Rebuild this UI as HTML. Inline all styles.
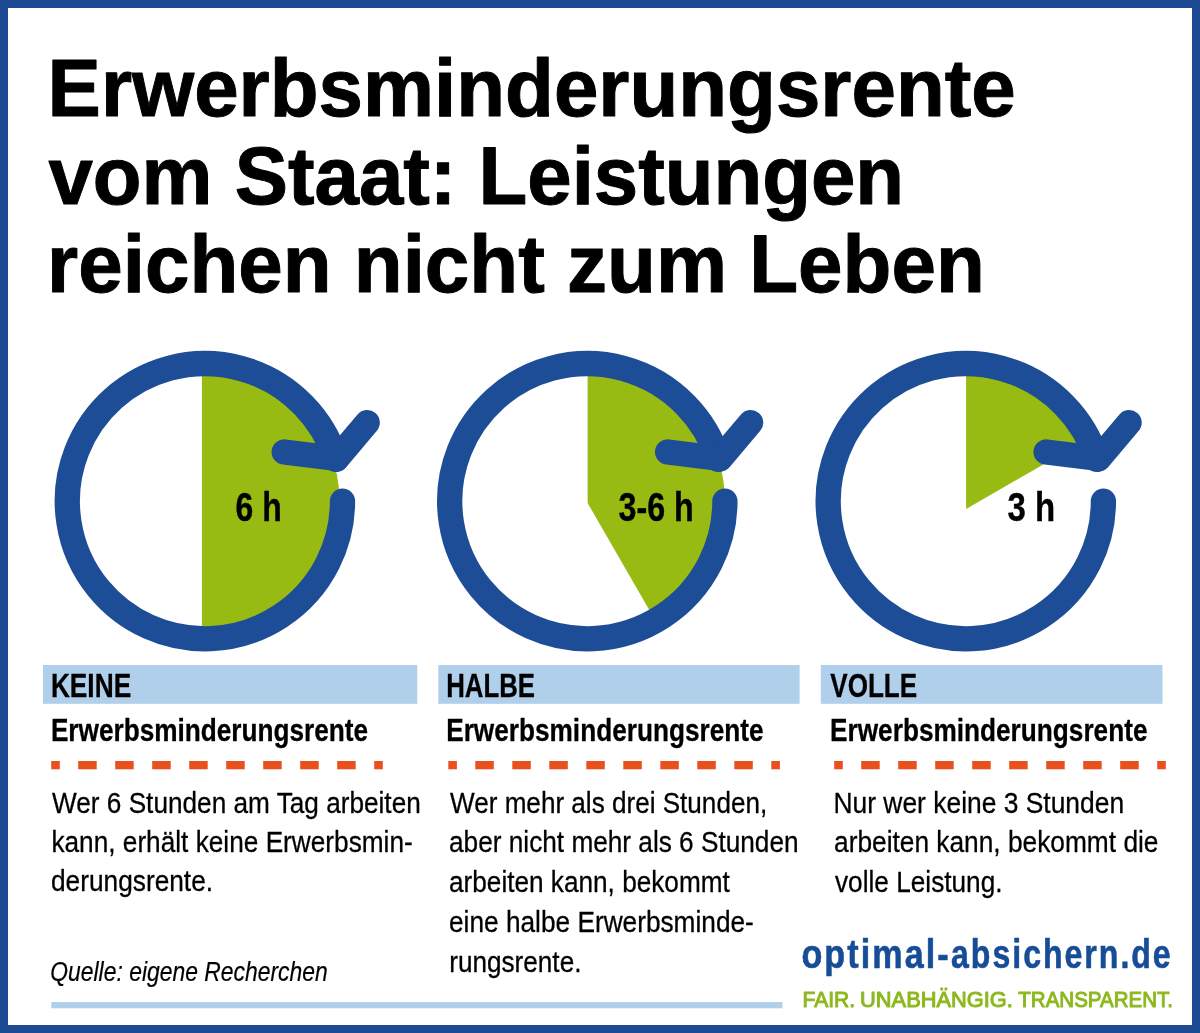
<!DOCTYPE html>
<html lang="de"><head><meta charset="utf-8"><title>Erwerbsminderungsrente vom Staat</title>
<style>html,body{margin:0;padding:0;background:#fff}body{width:1200px;height:1033px;overflow:hidden}svg{display:block}text{font-family:"Liberation Sans",Arial,Helvetica,sans-serif}</style>
</head><body>
<svg width="1200" height="1033" viewBox="0 0 1200 1033">
<rect x="0" y="0" width="1200" height="1033" fill="#1C4B93"/>
<rect x="8" y="8" width="1184" height="1017" fill="#fff"/>
<text x="47.61" y="116.3" font-size="81.8" font-weight="bold" font-style="normal" fill="#000" textLength="968.16" lengthAdjust="spacingAndGlyphs" stroke="#000" stroke-width="1.0" stroke-linejoin="round">Erwerbsminderungsrente</text>
<text x="48.5" y="204.1" font-size="81.8" font-weight="bold" font-style="normal" fill="#000" textLength="855.6" lengthAdjust="spacingAndGlyphs" stroke="#000" stroke-width="1.0" stroke-linejoin="round">vom Staat: Leistungen</text>
<text x="47.1" y="292.2" font-size="81.8" font-weight="bold" font-style="normal" fill="#000" textLength="937.66" lengthAdjust="spacingAndGlyphs" stroke="#000" stroke-width="1.0" stroke-linejoin="round">reichen nicht zum Leben</text>
<path d="M201.9 501.2 L201.9 363.6 A137.6 137.6 0 0 1 201.9 638.8 Z" fill="#97BB12"/>
<path d="M342.5 501.2 A137.6 137.6 0 1 1 336.0 459.4" fill="none" stroke="#1E4D97" stroke-width="25.3" stroke-linecap="round"/>
<path d="M284.2 452 L336.9 458.5 L367.2 422.6" fill="none" stroke="#1E4D97" stroke-width="25.3" stroke-linecap="round" stroke-linejoin="round"/>
<text x="235.6" y="520.8" font-size="40" font-weight="bold" font-style="normal" fill="#000" textLength="46.11" lengthAdjust="spacingAndGlyphs" stroke="#000" stroke-width="0.4" stroke-linejoin="round">6 h</text>
<path d="M587.6 503.0 L587.6 363.6 A137.6 137.6 0 0 1 655.5 620.7 Z" fill="#97BB12"/>
<path d="M724.9 501.2 A137.6 137.6 0 1 1 718.4 459.4" fill="none" stroke="#1E4D97" stroke-width="25.3" stroke-linecap="round"/>
<path d="M667.6 452 L720.3 458.5 L750.6 422.6" fill="none" stroke="#1E4D97" stroke-width="25.3" stroke-linecap="round" stroke-linejoin="round"/>
<text x="618.47" y="520.8" font-size="40" font-weight="bold" font-style="normal" fill="#000" textLength="75.31" lengthAdjust="spacingAndGlyphs" stroke="#000" stroke-width="0.4" stroke-linejoin="round">3-6 h</text>
<path d="M966.1 509.1 L966.1 363.6 A137.6 137.6 0 0 1 1088.3 438.5 Z" fill="#97BB12"/>
<path d="M1103.4 501.2 A137.6 137.6 0 1 1 1096.9 459.4" fill="none" stroke="#1E4D97" stroke-width="25.3" stroke-linecap="round"/>
<path d="M1046.1 452 L1098.8 458.5 L1129.1 422.6" fill="none" stroke="#1E4D97" stroke-width="25.3" stroke-linecap="round" stroke-linejoin="round"/>
<text x="1007.46" y="520.8" font-size="40" font-weight="bold" font-style="normal" fill="#000" textLength="47.61" lengthAdjust="spacingAndGlyphs" stroke="#000" stroke-width="0.4" stroke-linejoin="round">3 h</text>
<rect x="43" y="665" width="374.3" height="38.8" fill="#AFCFEA"/>
<text x="50.88" y="697" font-size="33" font-weight="bold" font-style="normal" fill="#000" textLength="80.29" lengthAdjust="spacingAndGlyphs" stroke="#000" stroke-width="0.3" stroke-linejoin="round">KEINE</text>
<text x="50.88" y="740.5" font-size="31.6" font-weight="bold" font-style="normal" fill="#000" textLength="317.17" lengthAdjust="spacingAndGlyphs" stroke="#000" stroke-width="0.3" stroke-linejoin="round">Erwerbsminderungsrente</text>
<rect x="51.2" y="761" width="8.6" height="8.3" fill="#E8501E"/>
<rect x="78.2" y="761" width="18.5" height="8.3" fill="#E8501E"/>
<rect x="115.2" y="761" width="18.5" height="8.3" fill="#E8501E"/>
<rect x="152.2" y="761" width="18.5" height="8.3" fill="#E8501E"/>
<rect x="189.2" y="761" width="18.5" height="8.3" fill="#E8501E"/>
<rect x="226.2" y="761" width="18.5" height="8.3" fill="#E8501E"/>
<rect x="263.2" y="761" width="18.5" height="8.3" fill="#E8501E"/>
<rect x="300.2" y="761" width="18.5" height="8.3" fill="#E8501E"/>
<rect x="337.2" y="761" width="18.5" height="8.3" fill="#E8501E"/>
<rect x="374.2" y="761" width="8.6" height="8.3" fill="#E8501E"/>
<text x="52.02" y="812.5" font-size="30.4" font-weight="normal" font-style="normal" fill="#000" textLength="368.76" lengthAdjust="spacingAndGlyphs" stroke="#000" stroke-width="0.3" stroke-linejoin="round">Wer 6 Stunden am Tag arbeiten</text>
<text x="51.38" y="852" font-size="30.4" font-weight="normal" font-style="normal" fill="#000" textLength="361.39" lengthAdjust="spacingAndGlyphs" stroke="#000" stroke-width="0.3" stroke-linejoin="round">kann, erhält keine Erwerbsmin-</text>
<text x="51.03" y="891.3" font-size="30.4" font-weight="normal" font-style="normal" fill="#000" textLength="162.01" lengthAdjust="spacingAndGlyphs" stroke="#000" stroke-width="0.3" stroke-linejoin="round">derungsrente.</text>
<rect x="438.3" y="665" width="361.3" height="38.8" fill="#AFCFEA"/>
<text x="446.21" y="697" font-size="33" font-weight="bold" font-style="normal" fill="#000" textLength="88.86" lengthAdjust="spacingAndGlyphs" stroke="#000" stroke-width="0.3" stroke-linejoin="round">HALBE</text>
<text x="446.18" y="740.5" font-size="31.6" font-weight="bold" font-style="normal" fill="#000" textLength="317.38" lengthAdjust="spacingAndGlyphs" stroke="#000" stroke-width="0.3" stroke-linejoin="round">Erwerbsminderungsrente</text>
<rect x="448.3" y="761" width="8.6" height="8.3" fill="#E8501E"/>
<rect x="475.3" y="761" width="18.5" height="8.3" fill="#E8501E"/>
<rect x="512.3" y="761" width="18.5" height="8.3" fill="#E8501E"/>
<rect x="549.3" y="761" width="18.5" height="8.3" fill="#E8501E"/>
<rect x="586.3" y="761" width="18.5" height="8.3" fill="#E8501E"/>
<rect x="623.3" y="761" width="18.5" height="8.3" fill="#E8501E"/>
<rect x="660.3" y="761" width="18.5" height="8.3" fill="#E8501E"/>
<rect x="697.3" y="761" width="18.5" height="8.3" fill="#E8501E"/>
<rect x="734.3" y="761" width="18.5" height="8.3" fill="#E8501E"/>
<rect x="771.3" y="761" width="8.6" height="8.3" fill="#E8501E"/>
<text x="450.02" y="812.5" font-size="30.4" font-weight="normal" font-style="normal" fill="#000" textLength="317.16" lengthAdjust="spacingAndGlyphs" stroke="#000" stroke-width="0.3" stroke-linejoin="round">Wer mehr als drei Stunden,</text>
<text x="449.04" y="852" font-size="30.4" font-weight="normal" font-style="normal" fill="#000" textLength="349.56" lengthAdjust="spacingAndGlyphs" stroke="#000" stroke-width="0.3" stroke-linejoin="round">aber nicht mehr als 6 Stunden</text>
<text x="449.04" y="892" font-size="30.4" font-weight="normal" font-style="normal" fill="#000" textLength="280.73" lengthAdjust="spacingAndGlyphs" stroke="#000" stroke-width="0.3" stroke-linejoin="round">arbeiten kann, bekommt</text>
<text x="449.03" y="932" font-size="30.4" font-weight="normal" font-style="normal" fill="#000" textLength="304.8" lengthAdjust="spacingAndGlyphs" stroke="#000" stroke-width="0.3" stroke-linejoin="round">eine halbe Erwerbsminde-</text>
<text x="449.19" y="972" font-size="30.4" font-weight="normal" font-style="normal" fill="#000" textLength="132.25" lengthAdjust="spacingAndGlyphs" stroke="#000" stroke-width="0.3" stroke-linejoin="round">rungsrente.</text>
<rect x="820.8" y="665" width="341.7" height="38.8" fill="#AFCFEA"/>
<text x="830.25" y="697" font-size="33" font-weight="bold" font-style="normal" fill="#000" textLength="86.9" lengthAdjust="spacingAndGlyphs" stroke="#000" stroke-width="0.3" stroke-linejoin="round">VOLLE</text>
<text x="830.08" y="740.5" font-size="31.6" font-weight="bold" font-style="normal" fill="#000" textLength="317.38" lengthAdjust="spacingAndGlyphs" stroke="#000" stroke-width="0.3" stroke-linejoin="round">Erwerbsminderungsrente</text>
<rect x="834.2" y="761" width="8.6" height="8.3" fill="#E8501E"/>
<rect x="861.2" y="761" width="18.5" height="8.3" fill="#E8501E"/>
<rect x="898.2" y="761" width="18.5" height="8.3" fill="#E8501E"/>
<rect x="935.2" y="761" width="18.5" height="8.3" fill="#E8501E"/>
<rect x="972.2" y="761" width="18.5" height="8.3" fill="#E8501E"/>
<rect x="1009.2" y="761" width="18.5" height="8.3" fill="#E8501E"/>
<rect x="1046.2" y="761" width="18.5" height="8.3" fill="#E8501E"/>
<rect x="1083.2" y="761" width="18.5" height="8.3" fill="#E8501E"/>
<rect x="1120.2" y="761" width="18.5" height="8.3" fill="#E8501E"/>
<rect x="1157.2" y="761" width="8.6" height="8.3" fill="#E8501E"/>
<text x="833.47" y="812.5" font-size="30.4" font-weight="normal" font-style="normal" fill="#000" textLength="290.64" lengthAdjust="spacingAndGlyphs" stroke="#000" stroke-width="0.3" stroke-linejoin="round">Nur wer keine 3 Stunden</text>
<text x="834.03" y="852" font-size="30.4" font-weight="normal" font-style="normal" fill="#000" textLength="324.45" lengthAdjust="spacingAndGlyphs" stroke="#000" stroke-width="0.3" stroke-linejoin="round">arbeiten kann, bekommt die</text>
<text x="835.02" y="891.7" font-size="30.4" font-weight="normal" font-style="normal" fill="#000" textLength="167.51" lengthAdjust="spacingAndGlyphs" stroke="#000" stroke-width="0.3" stroke-linejoin="round">volle Leistung.</text>
<text x="50.26" y="981.3" font-size="27.2" font-weight="normal" font-style="italic" fill="#000" textLength="277.52" lengthAdjust="spacingAndGlyphs" stroke="#000" stroke-width="0.2" stroke-linejoin="round">Quelle: eigene Recherchen</text>
<rect x="51.3" y="1002.1" width="731.2" height="6.2" fill="#AFCFEA"/>
<text x="801.43" y="967.8" font-size="40.5" font-weight="bold" font-style="normal" fill="#174D97" textLength="149.24" lengthAdjust="spacingAndGlyphs" stroke="#174D97" stroke-width="0.6" stroke-linejoin="round" letter-spacing="2.448">optimal-</text>
<text x="951.04" y="967.8" font-size="40.5" font-weight="bold" font-style="normal" fill="#174D97" textLength="221.64" lengthAdjust="spacingAndGlyphs" stroke="#174D97" stroke-width="0.6" stroke-linejoin="round" letter-spacing="2.498">absichern.de</text>
<text x="802.46" y="1007.2" font-size="21.7" font-weight="normal" font-style="normal" fill="#8DB81E" textLength="52.64" lengthAdjust="spacingAndGlyphs" stroke="#8DB81E" stroke-width="1.0" stroke-linejoin="round">FAIR.</text>
<text x="860.11" y="1007.2" font-size="21.7" font-weight="normal" font-style="normal" fill="#8DB81E" textLength="152.68" lengthAdjust="spacingAndGlyphs" stroke="#8DB81E" stroke-width="1.0" stroke-linejoin="round">UNABHÄNGIG.</text>
<text x="1018.34" y="1007.2" font-size="21.7" font-weight="normal" font-style="normal" fill="#8DB81E" textLength="154.62" lengthAdjust="spacingAndGlyphs" stroke="#8DB81E" stroke-width="1.0" stroke-linejoin="round">TRANSPARENT.</text>
</svg></body></html>
